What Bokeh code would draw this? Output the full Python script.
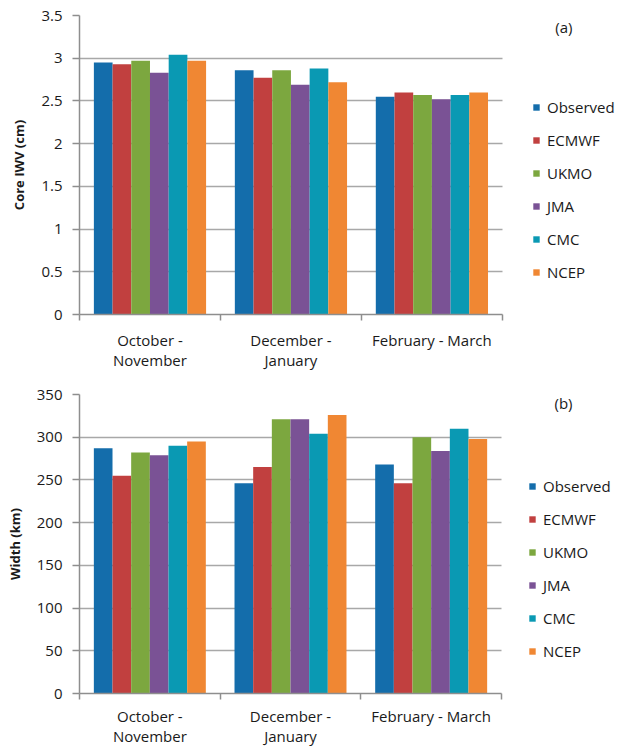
from bokeh.plotting import figure
from bokeh.models import (ColumnDataSource, FixedTicker, Legend, LegendItem, Label,
                          NumeralTickFormatter, Range1d, LinearAxis, Grid)
from bokeh.transform import dodge
from bokeh.layouts import column
from bokeh.embed import file_html
from bokeh.resources import INLINE

categories = ["October - November", "December - January", "February - March"]
category_labels = ["October -\nNovember", "December -\nJanuary", "February - March"]
series = ["Observed", "ECMWF", "UKMO", "JMA", "CMC", "NCEP"]
colors = ["#146dab", "#c1403f", "#7ca73f", "#7a5295", "#0a99b3", "#f08733"]

iwv_observed = [2.95, 2.86, 2.55]
iwv_ecmwf = [2.93, 2.77, 2.60]
iwv_ukmo = [2.97, 2.86, 2.57]
iwv_jma = [2.83, 2.69, 2.52]
iwv_cmc = [3.04, 2.88, 2.57]
iwv_ncep = [2.97, 2.72, 2.60]

width_observed = [287, 246, 268]
width_ecmwf = [255, 265, 246]
width_ukmo = [282, 321, 300]
width_jma = [279, 321, 284]
width_cmc = [290, 304, 310]
width_ncep = [295, 326, 298]

iwv_ticks = [0, 0.5, 1, 1.5, 2, 2.5, 3, 3.5]
width_ticks = [0, 50, 100, 150, 200, 250, 300, 350]

FONT = "Open Sans"
GRID = "#a8a8a8"
AXIS = "#8e8e8e"
TEXT = "#1a1a1a"


def make_panel(values, ylabel, yticks, tag, frame_left, frame_top, bars_w, frame_h,
               fig_w, fig_h, fmt, legend_loc, tag_px, xlab_standoff):
    n = len(categories)
    xc = [i + 0.5 for i in range(n)]
    data = {"x": xc}
    for s, v in zip(series, values):
        data[s] = v
    src = ColumnDataSource(data)

    frame_w = fig_w - frame_left
    xmax = n * frame_w / bars_w
    y0, y1 = yticks[0], yticks[-1]

    p = figure(width=fig_w, height=fig_h,
               x_range=Range1d(0, xmax), y_range=Range1d(y0, y1),
               output_backend="svg", toolbar_location=None,
               min_border_left=frame_left, min_border_top=frame_top,
               min_border_right=0,
               min_border_bottom=fig_h - frame_top - frame_h,
               x_axis_type=None, y_axis_type=None)
    p.outline_line_color = None
    p.background_fill_color = "white"
    p.border_fill_color = "white"

    group = 0.796
    bw = group / len(series)
    items = []
    for j, s in enumerate(series):
        off = (j - (len(series) - 1) / 2) * bw
        r = p.vbar(x=dodge("x", off), top=s, bottom=0, width=bw, source=src,
                   fill_color=colors[j], line_color=None)
        items.append(LegendItem(label=s, renderers=[r]))

    # x axis
    xa = LinearAxis(ticker=FixedTicker(ticks=xc, minor_ticks=list(range(n + 1))),
                    bounds=(0, n))
    xa.major_label_overrides = {x: lab for x, lab in zip(xc, category_labels)}
    xa.major_tick_line_color = None
    xa.minor_tick_line_color = AXIS
    xa.minor_tick_line_width = 1.5
    xa.minor_tick_out = 6
    xa.minor_tick_in = 0
    xa.axis_line_color = AXIS
    xa.axis_line_width = 1.5
    xa.major_label_standoff = xlab_standoff
    xa.major_label_text_font = FONT
    xa.major_label_text_font_size = "15px"
    xa.major_label_text_color = TEXT
    xa.major_label_text_line_height = 1.0
    p.add_layout(xa, "below")

    ya = LinearAxis(ticker=FixedTicker(ticks=yticks, minor_ticks=[]))
    ya.formatter = fmt
    ya.major_tick_line_color = AXIS
    ya.major_tick_out = 7
    ya.major_tick_in = 0
    ya.major_tick_line_width = 1.5
    ya.axis_line_color = AXIS
    ya.axis_line_width = 1.5
    ya.major_label_standoff = 10
    ya.major_label_text_font = FONT
    ya.major_label_text_font_size = "15px"
    ya.major_label_text_color = TEXT
    ya.axis_label = ylabel
    ya.axis_label_text_font = FONT
    ya.axis_label_text_font_style = "bold"
    ya.axis_label_text_font_size = "13px"
    ya.axis_label_text_color = TEXT
    ya.axis_label_standoff = 10
    p.add_layout(ya, "left")

    grid = Grid(dimension=1, ticker=FixedTicker(ticks=yticks), cross_bounds=(0, n),
                grid_line_color=GRID, grid_line_width=1.5)
    p.add_layout(grid)

    legend = Legend(items=items, location=legend_loc, orientation="vertical",
                    border_line_color=None, background_fill_alpha=0,
                    padding=0, margin=0, spacing=13,
                    glyph_width=8, glyph_height=8, label_standoff=7,
                    label_height=20,
                    label_text_font=FONT, label_text_font_size="15px",
                    label_text_color=TEXT)
    p.add_layout(legend)

    # panel tag, placed in data units derived from its pixel offset
    px_x = n / bars_w
    px_y = (y1 - y0) / frame_h
    p.add_layout(Label(x=n + tag_px[0] * px_x, y=y1 - tag_px[1] * px_y, text=tag,
                       text_align="center", text_baseline="middle", text_font=FONT,
                       text_font_size="15px", text_color=TEXT))
    return p


pa = make_panel([iwv_observed, iwv_ecmwf, iwv_ukmo, iwv_jma, iwv_cmc, iwv_ncep],
                "Core IWV (cm)", iwv_ticks, "(a)",
                75, 15, 426, 301, 623, 372,
                NumeralTickFormatter(format="0.[0]"), (453, 32), (62, 12), 9)
pb = make_panel([width_observed, width_ecmwf, width_ukmo, width_jma, width_cmc, width_ncep],
                "Width (km)", width_ticks, "(b)",
                79, 22, 422, 300, 623, 376,
                NumeralTickFormatter(format="0"), (449, 32), (62, 9), 6)

layout = column(pa, pb, spacing=0)
open("out.html", "w").write(file_html(layout, INLINE))
